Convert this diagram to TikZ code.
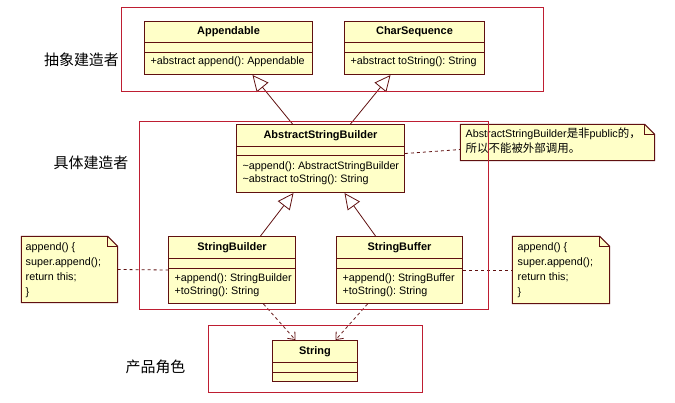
\documentclass[tikz,border=0pt]{standalone}
\usepackage{fontspec}
\setmainfont{Liberation Sans}
\newfontfamily\cjk{Noto Sans CJK SC}
\usetikzlibrary{arrows.meta}
\definecolor{umlfill}{RGB}{255,255,200}
\definecolor{umlline}{RGB}{96,16,16}
\definecolor{framered}{RGB}{190,30,50}
\frenchspacing

\begin{document}
\begin{tikzpicture}[x=1bp,y=-1bp,
  classbox/.style={draw=umlline,fill=umlfill,line width=1bp,inner sep=0pt},
  classline/.style={draw=umlline,line width=1bp},
  classtitle/.style={font=\fontsize{11}{13}\selectfont\bfseries,inner sep=0pt},
  classops/.style={font=\fontsize{10.8}{13}\selectfont,align=left,inner sep=0pt,anchor=north west},
  notebox/.style={draw=umlline,fill=umlfill,line width=1bp},
  notetext/.style={font=\fontsize{10.8}{15}\selectfont,align=left,inner sep=0pt,anchor=north west},
  roleframe/.style={draw=framered,line width=1.2bp},
  rolelabel/.style={font=\cjk\fontsize{15}{18}\selectfont,inner sep=0pt},
  inherit/.style={draw=umlline,line width=0.8bp,-{Triangle[open,length=16bp,width=15bp]}},
  depend/.style={draw=umlline,line width=0.8bp,dash pattern=on 3bp off 3bp,-{Straight Barb[length=6bp,width=10bp]}},
  noteline/.style={draw=umlline,line width=0.8bp,dash pattern=on 3bp off 3bp}]
\useasboundingbox (0,0) rectangle (675,402);
\begin{scope}[shift={(0.5,0.5)}]

% interfaces
\node[classbox,minimum width=168bp,minimum height=53bp] (app) at (228,47.5) {};
\draw[classline] ([yshift=-21bp]app.north west) -- ([yshift=-21bp]app.north east);
\draw[classline] ([yshift=-31bp]app.north west) -- ([yshift=-31bp]app.north east);
\node[classtitle] (appT) at (228,31.5) {Appendable};
\node[classops] (appO) at (150,56) {+abstract append(): Appendable};

\node[classbox,minimum width=140bp,minimum height=53bp] (chs) at (414,47.5) {};
\draw[classline] ([yshift=-21bp]chs.north west) -- ([yshift=-21bp]chs.north east);
\draw[classline] ([yshift=-31bp]chs.north west) -- ([yshift=-31bp]chs.north east);
\node[classtitle] (chsT) at (414,31.5) {CharSequence};
\node[classops] (chsO) at (350,56) {+abstract toString(): String};

% abstract builder
\node[classbox,minimum width=168bp,minimum height=68bp] (asb) at (320,158) {};
\draw[classline] ([yshift=-22bp]asb.north west) -- ([yshift=-22bp]asb.north east);
\draw[classline] ([yshift=-31bp]asb.north west) -- ([yshift=-31bp]asb.north east);
\node[classtitle] (asbT) at (320,135) {AbstractStringBuilder};
\node[classops] (asbO) at (242,161) {\textasciitilde append(): AbstractStringBuilder\\\textasciitilde abstract toString(): String};

% concrete builders
\node[classbox,minimum width=127bp,minimum height=67bp] (sb) at (231.5,269.5) {};
\draw[classline] ([yshift=-22bp]sb.north west) -- ([yshift=-22bp]sb.north east);
\draw[classline] ([yshift=-32bp]sb.north west) -- ([yshift=-32bp]sb.north east);
\node[classtitle] (sbT) at (231.5,247) {StringBuilder};
\node[classops] (sbO) at (174,273) {+append(): StringBuilder\\+toString(): String};

\node[classbox,minimum width=126bp,minimum height=67bp] (sbf) at (399,269.5) {};
\draw[classline] ([yshift=-22bp]sbf.north west) -- ([yshift=-22bp]sbf.north east);
\draw[classline] ([yshift=-32bp]sbf.north west) -- ([yshift=-32bp]sbf.north east);
\node[classtitle] (sbfT) at (399,247) {StringBuffer};
\node[classops] (sbfO) at (342,273) {+append(): StringBuffer\\+toString(): String};

% product
\node[classbox,minimum width=85bp,minimum height=41bp] (str) at (314.5,360.5) {};
\draw[classline] ([yshift=-22bp]str.north west) -- ([yshift=-22bp]str.north east);
\draw[classline] ([yshift=-32bp]str.north west) -- ([yshift=-32bp]str.north east);
\node[classtitle] (strT) at (314.5,351) {String};

% notes
\node[minimum width=96bp,minimum height=66bp,inner sep=0pt] (noteL) at (69,269) {};
\draw[notebox] (noteL.north west) -- ([xshift=-10bp]noteL.north east) -- ([yshift=-10bp]noteL.north east) -- (noteL.south east) -- (noteL.south west) -- cycle;
\draw[notebox,fill=none] ([xshift=-10bp]noteL.north east) |- ([yshift=-10bp]noteL.north east);
\node[notetext] (noteLT) at (25,242) {append() \{\\super.append();\\return this;\\\}};

\node[minimum width=97bp,minimum height=67bp,inner sep=0pt] (noteR) at (560.5,269.5) {};
\draw[notebox] (noteR.north west) -- ([xshift=-10bp]noteR.north east) -- ([yshift=-10bp]noteR.north east) -- (noteR.south east) -- (noteR.south west) -- cycle;
\draw[notebox,fill=none] ([xshift=-10bp]noteR.north east) |- ([yshift=-10bp]noteR.north east);
\node[notetext] (noteRT) at (517,242) {append() \{\\super.append();\\return this;\\\}};

\node[minimum width=194bp,minimum height=36bp,inner sep=0pt] (noteT) at (557,142) {};
\draw[notebox] (noteT.north west) -- ([xshift=-10bp]noteT.north east) -- ([yshift=-10bp]noteT.north east) -- (noteT.south east) -- (noteT.south west) -- cycle;
\draw[notebox,fill=none] ([xshift=-10bp]noteT.north east) |- ([yshift=-10bp]noteT.north east);
\node[notetext] (noteTT) at (465,127) {AbstractStringBuilder{\cjk\fontsize{11.5}{15}\selectfont 是非}public{\cjk\fontsize{11.5}{15}\selectfont 的，}\\{\cjk\fontsize{11.5}{15}\selectfont 所以不能被外部调用。}};

% connectors
\draw[inherit] ([xshift=-28bp]asb.north) -- ([xshift=24bp]app.south);
\draw[inherit] ([xshift=30bp]asb.north) -- ([xshift=-24bp]chs.south);
\draw[inherit] ([xshift=28.5bp]sb.north) -- ([xshift=-27bp]asb.south);
\draw[inherit] ([xshift=-24bp]sbf.north) -- ([xshift=24bp]asb.south);
\draw[depend] ([xshift=31.5bp]sb.south) -- ([xshift=-19.5bp]str.north);
\draw[depend] ([xshift=-32bp]sbf.south) -- ([xshift=20.5bp]str.north);
\draw[noteline] (noteL.east) -- (sb.west);
\draw[noteline] (sbf.east) -- (noteR.west);
\draw[noteline] ([yshift=5bp]asb.east) -- ([yshift=-7bp]noteT.west);

% role frames
\draw[roleframe] (121,7) rectangle (543,91);
\draw[roleframe] (139,121) rectangle (488,309);
\draw[roleframe] (208,325) rectangle (422,392);
\node[rolelabel] (abstractLbl) at (81,59) {抽象建造者};
\node[rolelabel] (concreteLbl) at (90.5,162) {具体建造者};
\node[rolelabel] (productLbl) at (155,366) {产品角色};

\end{scope}
\end{tikzpicture}
\end{document}
